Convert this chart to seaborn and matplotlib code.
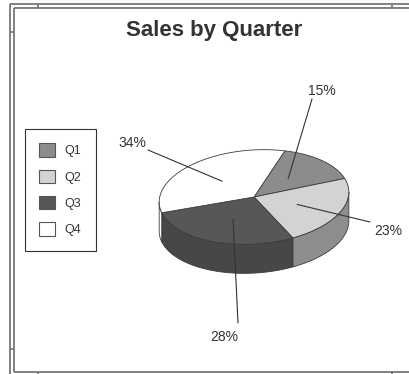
import numpy as np
import matplotlib
matplotlib.use("Agg")
import matplotlib.pyplot as plt
from matplotlib.patches import Polygon, Patch
from matplotlib.lines import Line2D
import seaborn as sns

# Sales share per quarter (percent)
quarters = ["Q1", "Q2", "Q3", "Q4"]
shares = [15, 23, 28, 34]
top_colors = ["#8c8c8c", "#d3d3d3", "#575757", "#ffffff"]
side_colors = ["#7c7c7c", "#8e8e8e", "#474747", "#ffffff"]

sns.set_theme(style="white")
plt.rcParams["font.family"] = ["Liberation Sans", "DejaVu Sans"]

W, H, DPI = 410, 374, 100
fig = plt.figure(figsize=(W / DPI, H / DPI), dpi=DPI)
ax = fig.add_axes([0, 0, 1, 1])
ax.set_xlim(0, W)
ax.set_ylim(H, 0)
ax.axis("off")

# ---- page frame with crop ticks ----
frame_kw = dict(color="#777777", lw=1.3, solid_capstyle="butt")
frame_segments = [
    ((10, 3.5), (410, 3.5)), ((10, 3.5), (10, 374)),
    ((14, 8), (410, 8)), ((14, 8), (14, 371.5)), ((14, 371.5), (410, 371.5)),
    ((38, 3.5), (38, 8)), ((392, 3.5), (392, 8)),
    ((10, 32), (14, 32)), ((10, 349), (14, 349)),
    ((38, 371.5), (38, 374)), ((392, 371.5), (392, 374)),
]
for (x0, y0), (x1, y1) in frame_segments:
    ax.add_line(Line2D([x0, x1], [y0, y1], **frame_kw))

# ---- 3D pie geometry (pixel units) ----
cx, cy = 254, 197
a, b = 95, 47
depth = 29
tilt = np.deg2rad(4)
start = np.deg2rad(69)
edge = dict(edgecolor="#3a3a3a", linewidth=0.6, joinstyle="round")


def pt(t, r=1.0, dz=0.0):
    x = r * a * np.cos(t)
    y = r * b * np.sin(t)
    xr = x * np.cos(tilt) - y * np.sin(tilt)
    yr = x * np.sin(tilt) + y * np.cos(tilt)
    return cx + xr, cy - yr + dz


fracs = np.array(shares, dtype=float) / np.sum(shares)
ends = start - 2 * np.pi * np.cumsum(fracs)
starts = np.concatenate([[start], ends[:-1]])

# front-facing arc range of the side wall
t0 = np.arctan(-(b / a) * np.tan(tilt))
front = (np.pi + t0, 2 * np.pi + t0)

# side walls
for i in range(len(shares)):
    lo, hi = ends[i], starts[i]
    for k in range(-2, 3):
        s0 = max(lo, front[0] + 2 * np.pi * k)
        s1 = min(hi, front[1] + 2 * np.pi * k)
        if s1 - s0 <= 1e-6:
            continue
        ts = np.linspace(s0, s1, 80)
        tx, ty = pt(ts)
        bx, by = pt(ts[::-1], dz=depth)
        verts = np.column_stack([np.concatenate([tx, bx]), np.concatenate([ty, by])])
        ax.add_patch(Polygon(verts, closed=True, facecolor=side_colors[i], zorder=1, **edge))

# top faces
for i in range(len(shares)):
    ts = np.linspace(starts[i], ends[i], 120)
    ax_, ay_ = pt(ts)
    verts = np.column_stack([np.concatenate([[cx], ax_]), np.concatenate([[cy], ay_])])
    ax.add_patch(Polygon(verts, closed=True, facecolor=top_colors[i], zorder=2, **edge))

# ---- leader lines and percentage labels ----
leader_end = [(312, 99), (370, 222), (238, 323), (148, 150)]
label_pos = [(322, 95), (388, 235), (224, 341), (132, 147)]
for i in range(len(shares)):
    mid = 0.5 * (starts[i] + ends[i])
    px, py = pt(mid, r=0.5)
    ex, ey = leader_end[i]
    ax.add_line(Line2D([px, ex], [py, ey], color="#333333", lw=0.8, zorder=3))
    lx, ly = label_pos[i]
    ax.text(lx, ly, f"{shares[i]}%", ha="center", va="baseline",
            fontsize=10, color="#333333", zorder=4)

# ---- title ----
ax.text(214, 36, "Sales by Quarter", ha="center", va="baseline",
        fontsize=16, fontweight="bold", color="#333333")

# ---- legend ----
handles = [Patch(facecolor=c, edgecolor="#555555", linewidth=0.8) for c in top_colors]
leg = ax.legend(handles, quarters, loc="upper left",
                bbox_to_anchor=(25 / W, 1 - 129 / H), bbox_transform=ax.transAxes,
                borderaxespad=0, fancybox=False, framealpha=1, fontsize=9,
                handlelength=1.25, handleheight=1.25, handletextpad=0.75,
                labelspacing=1.0, borderpad=1.15)
leg.get_frame().set_edgecolor("#333333")
leg.get_frame().set_linewidth(0.8)
for txt in leg.get_texts():
    txt.set_color("#333333")

fig.savefig("out.png", dpi=DPI, facecolor="white")
